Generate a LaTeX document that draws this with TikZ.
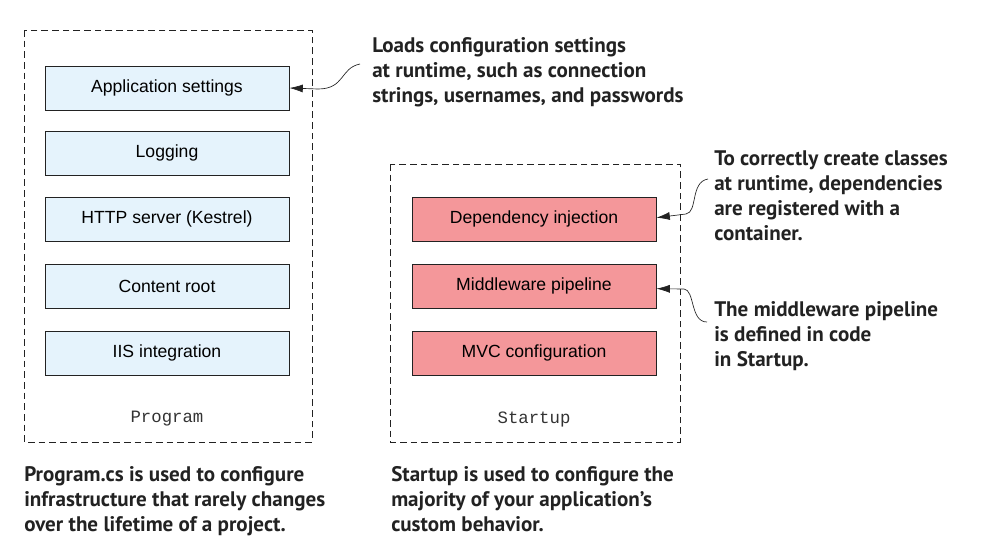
\documentclass[tikz,border=0pt]{standalone}
\usepackage{fontspec}
\setmainfont{Liberation Sans}
\newfontfamily\notefont{PT Sans}
\newfontfamily\codefont{Liberation Mono}
\usetikzlibrary{arrows.meta}
\definecolor{bluefill}{HTML}{E5F3FC}
\definecolor{redfill}{HTML}{F4979A}
\definecolor{linegray}{HTML}{222222}
\begin{document}
\begin{tikzpicture}[x=0.75pt,y=-0.75pt,
  group/.style={draw=linegray,dashed,dash pattern=on 5pt off 3pt,line width=0.6pt},
  bluebox/.style={draw=linegray,fill=bluefill,line width=0.7pt,minimum width=183pt,minimum height=33pt,font=\fontsize{13.2}{15}\selectfont,inner sep=0pt},
  redbox/.style={bluebox,fill=redfill},
  note/.style={align=left,anchor=north west,inner sep=0pt,font=\notefont\bfseries\fontsize{15.8}{18.9}\selectfont,text=linegray},
  code/.style={font=\codefont\fontsize{13}{15}\selectfont,inner sep=0pt,text=black!80},
  callout/.style={draw=linegray,line width=0.5pt,-{Latex[length=10pt,width=6pt]}}]
\useasboundingbox (0,0) rectangle (985,546);
% groups
\draw[group] (24,30) rectangle (312,442);
\draw[group] (390,164) rectangle (680,442);
% program boxes
\node[bluebox] (app) at (167,88) {Application settings};
\node[bluebox] (log) at (167,153) {Logging};
\node[bluebox] (http) at (167,219) {HTTP server (Kestrel)};
\node[bluebox] (root) at (167,286) {Content root};
\node[bluebox] (iis) at (167,353) {IIS integration};
\node[code] (prog) at (167,419) {Program};
% startup boxes
\node[redbox] (di) at (534,219) {Dependency injection};
\node[redbox] (mw) at (534,286) {Middleware pipeline};
\node[redbox] (mvc) at (534,353) {MVC configuration};
\node[code] (start) at (534,419) {Startup};
% notes
\node[note] (n1) at (372,37) {Loads configuration settings\\at runtime, such as connection\\strings, usernames, and passwords};
\node[note] (n2) at (714,150) {To correctly create classes\\at runtime, dependencies\\are registered with a\\container.};
\node[note] (n3) at (714,301) {The middleware pipeline\\is defined in code\\in Startup.};
\node[note] (b1) at (24,466) {Program.cs is used to configure\\infrastructure that rarely changes\\over the lifetime of a project.};
\node[note] (b2) at (391,466) {Startup is used to configure the\\majority of your application’s\\custom behavior.};
% callouts
\coordinate (c1) at (360,64);
\coordinate (c2) at (708,179);
\coordinate (c3) at (707,322);
\draw[callout] (c1) .. controls (340,68) and (345,89) .. (318,89) -- (app.east);
\draw[callout] (c2) .. controls (690,182) and (698,212) .. (686,214) -- ([yshift=1pt]di.east);
\draw[callout] (c3) .. controls (690,322) and (695,290) .. (684,289) -- ([yshift=-2pt]mw.east);
\end{tikzpicture}
\end{document}
